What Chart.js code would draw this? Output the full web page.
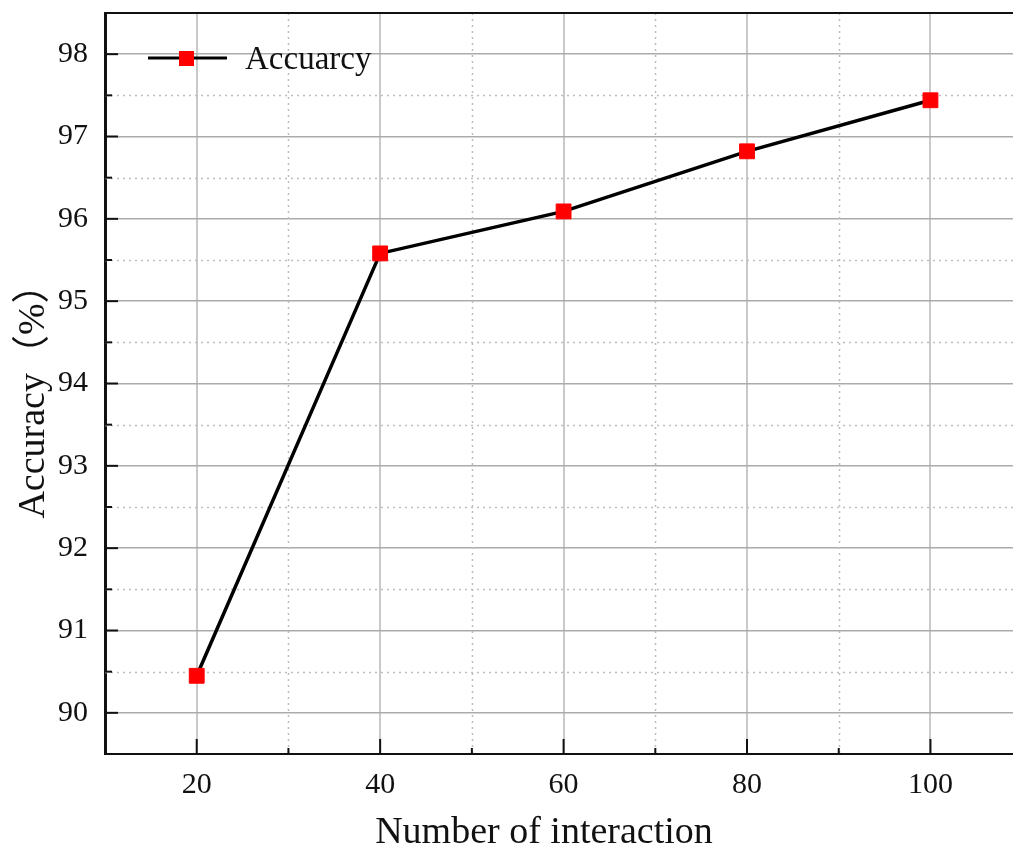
<!DOCTYPE html>
<html>
<head>
<meta charset="utf-8">
<script src="https://cdn.jsdelivr.net/npm/chart.js@4.4.0/dist/chart.umd.min.js"></script>
<style>
  html, body { margin: 0; padding: 0; background: #fff; }
  canvas { display: block; }
</style>
</head>
<body>
<canvas id="accChart" width="1013" height="848"></canvas>
<script>
// Data
const interactions = [20, 40, 60, 80, 100];
const accuracy = [90.45, 95.58, 96.09, 96.82, 97.44];
const xTicks = [20, 40, 60, 80, 100];
const yTicks = [90, 91, 92, 93, 94, 95, 96, 97, 98];
const xMinor = [30, 50, 70, 90];
const yMinor = [89.5, 90.5, 91.5, 92.5, 93.5, 94.5, 95.5, 96.5, 97.5, 98.5];
const seriesName = 'Accuarcy';
const xTitle = 'Number of interaction';
const yTitle = 'Accuracy\uFF08%\uFF09';

const SERIF = '"Liberation Serif", "Times New Roman", "Noto Sans CJK SC", serif';

// no extra room for label overflow, the plot fills the frame
function noPadding(s) {
    s.paddingTop = 0;
    s.paddingBottom = 0;
    s.paddingLeft = 0;
    s.paddingRight = 0;
}

// minor dotted grid, inside ticks, top frame, titles and legend
const decorPlugin = {
    id: 'decor',
    beforeDatasetsDraw(chart) {
        const { ctx, chartArea: a, scales: { x, y } } = chart;
        ctx.save();
        ctx.strokeStyle = '#bdbdbd';
        ctx.lineWidth = 1.5;
        ctx.setLineDash([2, 4]);
        xMinor.forEach(v => {
            const px = Math.round(x.getPixelForValue(v)) + 0.5;
            ctx.beginPath(); ctx.moveTo(px, a.top); ctx.lineTo(px, a.bottom); ctx.stroke();
        });
        yMinor.forEach(v => {
            const py = Math.round(y.getPixelForValue(v)) + 0.5;
            if (py <= a.top + 2 || py >= a.bottom - 2) return;
            ctx.beginPath(); ctx.moveTo(a.left, py); ctx.lineTo(a.right, py); ctx.stroke();
        });
        ctx.restore();
    },
    afterDraw(chart) {
        const { ctx, chartArea: a, scales: { x, y } } = chart;
        ctx.save();
        // top frame
        ctx.strokeStyle = '#111';
        ctx.lineWidth = 2;
        ctx.beginPath(); ctx.moveTo(a.left, a.top); ctx.lineTo(a.right, a.top); ctx.stroke();

        // inside ticks
        ctx.lineWidth = 2;
        yTicks.forEach(v => {
            const py = y.getPixelForValue(v);
            ctx.beginPath(); ctx.moveTo(a.left, py); ctx.lineTo(a.left + 13, py); ctx.stroke();
        });
        yMinor.forEach(v => {
            const py = y.getPixelForValue(v);
            if (py <= a.top + 2 || py >= a.bottom - 2) return;
            ctx.beginPath(); ctx.moveTo(a.left, py); ctx.lineTo(a.left + 7, py); ctx.stroke();
        });
        xTicks.forEach(v => {
            const px = x.getPixelForValue(v);
            ctx.beginPath(); ctx.moveTo(px, a.bottom); ctx.lineTo(px, a.bottom - 15); ctx.stroke();
        });
        xMinor.forEach(v => {
            const px = x.getPixelForValue(v);
            ctx.beginPath(); ctx.moveTo(px, a.bottom); ctx.lineTo(px, a.bottom - 6); ctx.stroke();
        });

        // axis titles
        ctx.fillStyle = '#111';
        ctx.font = '38px ' + SERIF;
        ctx.textAlign = 'center';
        ctx.textBaseline = 'alphabetic';
        ctx.fillText(xTitle, 544, 843);
        ctx.save();
        ctx.translate(44, 392);
        ctx.rotate(-Math.PI / 2);
        ctx.fillText(yTitle, 0, 0);
        ctx.restore();

        // legend
        ctx.strokeStyle = '#000';
        ctx.lineWidth = 3;
        ctx.beginPath(); ctx.moveTo(148, 58); ctx.lineTo(227, 58); ctx.stroke();
        ctx.fillStyle = '#ff0000';
        ctx.fillRect(179, 51, 15, 15);
        ctx.fillStyle = '#111';
        ctx.font = '33px ' + SERIF;
        ctx.textAlign = 'left';
        ctx.fillText(seriesName, 245, 69);
        ctx.restore();
    }
};

const ctx = document.getElementById('accChart').getContext('2d');
new Chart(ctx, {
    type: 'line',
    data: {
        datasets: [{
            label: seriesName,
            data: interactions.map((v, i) => ({ x: v, y: accuracy[i] })),
            borderColor: '#000',
            borderWidth: 3.5,
            tension: 0,
            fill: false,
            pointStyle: 'rect',
            pointRadius: 10.5,
            pointHoverRadius: 10.5,
            pointBackgroundColor: '#ff0000',
            pointBorderColor: '#ff0000',
            pointBorderWidth: 1
        }]
    },
    options: {
        responsive: false,
        animation: false,
        devicePixelRatio: 1,
        layout: { autoPadding: false, padding: { top: 13, right: 0, bottom: 0, left: 0 } },
        plugins: {
            legend: { display: false },
            tooltip: { enabled: false }
        },
        scales: {
            x: {
                type: 'linear',
                min: 10,
                max: 109,
                afterBuildTicks: s => { s.ticks = xTicks.map(v => ({ value: v })); },
                afterFit: s => { s.height = 94; noPadding(s); },
                grid: { color: '#c9c9c9', lineWidth: 2, drawTicks: false },
                border: { color: '#111', width: 2 },
                ticks: {
                    padding: 13,
                    color: '#111',
                    font: { family: SERIF, size: 30 }
                }
            },
            y: {
                type: 'linear',
                min: 89.5,
                max: 98.5,
                afterBuildTicks: s => { s.ticks = yTicks.map(v => ({ value: v })); },
                afterFit: s => { s.width = 105; noPadding(s); },
                grid: { color: '#ababab', lineWidth: 1.5, drawTicks: false },
                border: { color: '#111', width: 3 },
                ticks: {
                    padding: 17,
                    color: '#111',
                    font: { family: SERIF, size: 30 }
                }
            }
        }
    },
    plugins: [decorPlugin]
});
</script>
</body>
</html>
